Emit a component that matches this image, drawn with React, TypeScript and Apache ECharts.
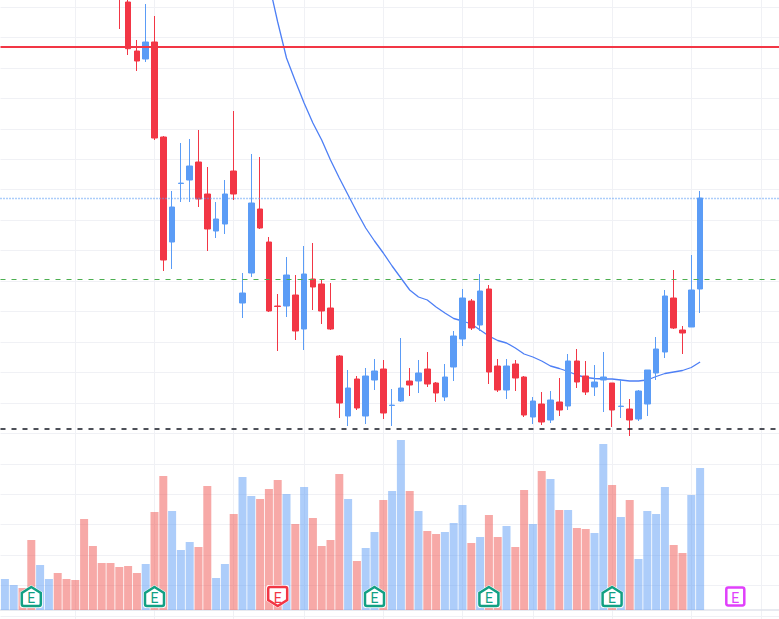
import React, { useEffect, useRef } from "react";
import * as echarts from "echarts";

const firstCandle = 13;
const opens = [67.6,61.4,56.5,55.7,57.4,47.9,37.4,43.25,43.6,45.4,42.2,38.5,39.2,44.5,31.3,34.3,40.7,37.4,31.0,31.0,32.1,28.7,33.7,33.2,30.8,26.0,20.0,23.7,20.0,23.6,24.7,21.05,21.5,23.5,23.5,24.7,23.3,21.9,24.9,27.7,31.5,29.1,32.7,25.0,22.6,25.2,23.9,19.9,21.2,19.6,21.4,21.0,25.5,24.0,22.9,23.6,23.3,20.95,20.7,19.7,21.2,24.3,26.4,31.8,28.6,28.9,32.7];
const closes = [62.1,56.73,55.5,57.4,47.8,35.6,40.9,43.29,45.0,41.7,38.7,39.7,42.2,42.2,32.3,41.3,38.8,30.5,30.95,34.1,28.5,34.2,32.9,30.5,28.7,21.3,22.8,20.8,24.0,24.5,20.3,21.09,22.8,23.1,24.3,23.2,22.3,23.9,28.0,31.8,28.8,32.5,24.4,22.6,25.0,23.8,20.1,21.5,19.4,21.6,20.6,25.5,23.4,22.4,23.4,23.9,20.6,20.99,19.6,22.5,24.6,26.7,32.0,28.8,28.3,32.6,41.8];
const lows = [58.7,56.1,54.5,55.4,47.6,34.5,34.7,41.4,41.4,40.9,36.5,37.8,38.2,41.6,29.8,33.9,38.7,30.4,26.5,29.9,27.6,26.6,30.6,29.2,28.6,19.8,19.0,20.6,19.2,22.6,19.7,19.0,21.4,22.0,22.3,22.9,21.4,21.5,23.5,27.0,28.6,28.5,23.2,22.4,21.7,22.5,19.9,19.2,19.1,19.3,20.0,20.6,22.8,22.1,22.0,20.4,18.9,19.8,18.0,19.5,20.0,23.6,25.8,28.7,26.2,28.9,30.3];
const highs = [68.6,62.6,57.6,61.2,60.0,48.0,42.5,47.3,47.7,48.6,44.9,41.4,43.6,50.5,34.3,46.2,45.9,37.9,32.2,35.9,34.1,37.0,37.3,33.7,33.3,26.1,24.6,24.0,24.8,25.7,25.6,22.7,27.8,24.8,25.6,26.4,23.4,25.2,28.5,32.7,31.7,34.2,33.1,25.7,25.7,25.6,24.0,21.9,22.4,22.5,23.8,26.2,26.7,25.5,25.1,26.4,23.3,23.7,21.7,22.6,24.6,27.9,32.6,34.6,29.0,36.1,42.5];

const firstAverage = 30;
const movingAverage = [63.3,59.4,55.8,53.5,51.3,49.3,47.6,45.6,43.8,42.1,40.4,38.8,37.5,36.3,35.0,33.8,32.6,31.9,31.6,30.9,30.3,29.75,29.5,29.2,28.6,28.0,27.55,27.3,26.8,26.2,25.9,25.5,25.0,24.75,24.45,24.1,23.85,23.75,23.7,23.7,23.6,23.5,23.5,23.6,23.95,24.25,24.4,24.55,24.85,25.4];

const volumes = [3.1,2.5,2.2,7.0,4.5,3.1,3.7,3.1,3.0,9.1,6.4,4.7,4.7,4.3,4.4,3.7,4.6,9.8,13.4,9.9,6.0,6.8,6.3,12.4,3.2,4.6,9.6,13.3,11.4,11.1,12.1,13.0,11.6,8.6,12.3,9.2,6.4,7.0,13.6,11.1,4.9,6.2,7.8,11.0,11.9,17.0,11.9,9.9,7.9,7.6,7.8,8.7,10.5,6.7,7.3,9.5,7.3,8.4,6.3,12.0,8.6,13.9,13.1,10.0,10.0,8.2,8.1,7.7,16.6,12.5,9.3,11.0,5.1,9.9,9.6,12.3,6.5,5.7,11.5,14.2];
const earlyVolumeUp = [true,true,false,false,true,true,false,false,false,false,false,false,false];

const earningsUp = [3, 17, 42, 55, 69];
const earningsDown = [31];
const earningsFuture = [83];
const earningsLevel = 1.35;

const resistance = 56.9;
const lastPrice = 41.8;
const midLevel = 33.67;
const supportLevel = 18.77;

const barCount = 89;
const verticalGrid = [8, 17, 26, 34, 43, 52, 60, 69, 78, 86];

const RED = "#f23645";
const BLUE = "#5b9cf6";
const GRIDLINE = "#f0f1f5";

const HOUSE_UP = "path://M10 0 L20 6 Q20 6 20 7 L20 17 Q20 19 18 19 L2 19 Q0 19 0 17 L0 7 Q0 6 0 6 Z";
const HOUSE_DOWN = "path://M2 0 L18 0 Q20 0 20 2 L20 12 Q20 13 20 13 L10 19 L0 13 Q0 13 0 12 L0 2 Q0 0 2 0 Z";
const ROUNDED_BOX = "path://M2 0 L17 0 Q19 0 19 2 L19 17 Q19 19 17 19 L2 19 Q0 19 0 17 L0 2 Q0 0 2 0 Z";

function markerSeries(indices: number[], path: string, color: string, size: number[]) {
  const data = indices.map((k) => [k, earningsLevel]);
  const halo = {
    type: "scatter", xAxisIndex: 1, yAxisIndex: 1, data, silent: true, z: 6,
    symbol: path, symbolSize: [size[0] + 3, size[1] + 3],
    itemStyle: { color: "#ffffff", opacity: 1 },
  };
  const mark = {
    type: "scatter", xAxisIndex: 1, yAxisIndex: 1, data, silent: true, z: 7,
    symbol: path, symbolSize: [size[0] - 1, size[1] - 1],
    itemStyle: { color: "#ffffff", borderColor: color, borderWidth: 2.5, opacity: 1 },
    label: {
      show: true, position: "inside", formatter: "E", color,
      fontFamily: "Roboto, sans-serif", fontSize: 14, offset: [0, 1],
    },
  };
  return [halo, mark];
}

function hLine(value: number, color: string, width: number, type: any) {
  return { yAxis: value, lineStyle: { color, width, type } };
}

export default function App() {
  const ref = useRef<HTMLDivElement | null>(null);

  useEffect(() => {
    document.body.style.margin = "0";
    document.body.style.background = "#ffffff";
    const chart = echarts.init(ref.current!, null, { renderer: "svg" });
    const categories = Array.from({ length: barCount }, (_, i) => String(i));
    const candleData = opens.map((o, i) => [i + firstCandle, o, closes[i], lows[i], highs[i]]);
    const averageData = movingAverage.map((v, i) => [i + firstAverage, v]);
    const volumeData = volumes.map((v, i) => {
      const up = i < firstCandle ? earlyVolumeUp[i] : closes[i - firstCandle] > opens[i - firstCandle];
      return { value: v, itemStyle: { color: up ? BLUE : "#ef5350", opacity: 0.5 } };
    });

    chart.setOption({
      animation: false,
      backgroundColor: "#ffffff",
      grid: [
        { left: 0.5, width: 783.2, top: 7, height: 609 },
        { left: 0.5, width: 783.2, top: 410, height: 200 },
        { left: 4.9, width: 774.4, top: 0, height: 619 },
      ],
      xAxis: [
        { type: "category", gridIndex: 0, data: categories, show: false },
        {
          type: "category", gridIndex: 1, data: categories,
          axisLine: { show: true, lineStyle: { color: "#e0e3eb", width: 1.5 } },
          axisTick: { show: false }, axisLabel: { show: false }, splitLine: { show: false },
        },
        {
          type: "category", gridIndex: 2, data: categories, boundaryGap: false,
          axisLine: { show: false }, axisTick: { show: false }, axisLabel: { show: false },
          splitLine: {
            show: true,
            interval: (index: number) => verticalGrid.includes(index),
            lineStyle: { color: GRIDLINE, width: 1 },
          },
        },
      ],
      yAxis: [
        {
          type: "value", gridIndex: 0, min: 0, max: 60.9, interval: 3.045,
          axisLine: { show: false }, axisTick: { show: false }, axisLabel: { show: false },
          splitLine: { show: true, lineStyle: { color: GRIDLINE, width: 1 } },
        },
        {
          type: "value", gridIndex: 1, min: 0, max: 20,
          axisLine: { show: false }, axisTick: { show: false }, axisLabel: { show: false },
          splitLine: { show: false },
        },
        {
          type: "value", gridIndex: 2, min: 0, max: 1,
          axisLine: { show: false }, axisTick: { show: false }, axisLabel: { show: false },
          splitLine: { show: false },
        },
      ],
      series: [
        {
          type: "bar", xAxisIndex: 1, yAxisIndex: 1, data: volumeData, barWidth: 8, silent: true, z: 2,
        },
        {
          type: "line", xAxisIndex: 0, yAxisIndex: 0, data: averageData, showSymbol: false, symbol: "none",
          clip: false, silent: true, z: 2,
          lineStyle: { color: "#4d7ff5", width: 1.3 },
        },
        {
          type: "candlestick", xAxisIndex: 0, yAxisIndex: 0, data: candleData,
          encode: { x: 0, y: [1, 2, 3, 4] },
          barWidth: 6, clip: false, silent: true, z: 3,
          itemStyle: { color: BLUE, color0: RED, borderColor: BLUE, borderColor0: RED, borderWidth: 1 },
          markLine: {
            silent: true, symbol: "none", label: { show: false }, z: 5, animation: false,
            data: [
              hLine(resistance, RED, 2, "solid"),
              hLine(lastPrice, BLUE, 1.3, [1, 2]),
              hLine(midLevel, "#4caf50", 1, [5, 6]),
              hLine(supportLevel, "#131722", 1.5, [5, 6]),
            ],
          },
        },
        ...markerSeries(earningsUp, HOUSE_UP, "#12a083", [20, 20]),
        ...markerSeries(earningsDown, HOUSE_DOWN, RED, [20, 20]),
        ...markerSeries(earningsFuture, ROUNDED_BOX, "#e040fb", [19, 19]),
      ],
    });
    return () => chart.dispose();
  }, []);

  return (
    <div style={{ position: "absolute", left: 0, top: 0, width: 779, height: 619, overflow: "hidden" }}>
      <div ref={ref} style={{ width: 800, height: 619 }} />
    </div>
  );
}
